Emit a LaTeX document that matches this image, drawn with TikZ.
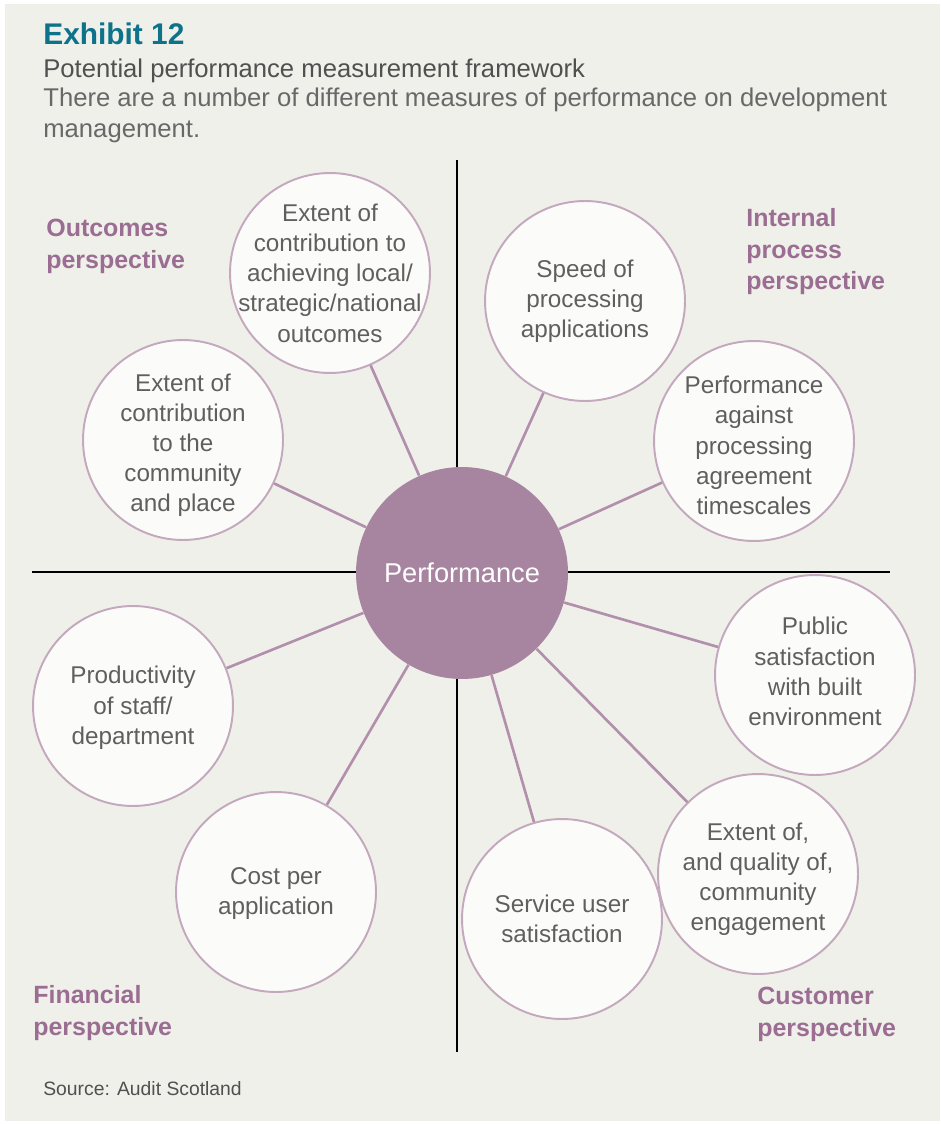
\documentclass[tikz,border=0pt]{standalone}
\usepackage{fontspec}
\setmainfont{Liberation Sans}
\definecolor{bgbeige}{RGB}{239,240,233}
\definecolor{titleteal}{RGB}{14,114,138}
\definecolor{subgray}{RGB}{80,80,80}
\definecolor{descgray}{RGB}{104,104,104}
\definecolor{labelpurple}{RGB}{155,109,147}
\definecolor{perffill}{RGB}{167,132,159}
\definecolor{ringpurple}{RGB}{195,168,190}
\definecolor{spokepurple}{RGB}{178,143,172}
\definecolor{circlewhite}{RGB}{251,251,249}
\definecolor{circletext}{RGB}{95,95,95}

\begin{document}
\begin{tikzpicture}[x=0.02cm,y=-0.02cm,
	measure/.style={circle,draw=ringpurple,line width=1.1pt,fill=circlewhite,minimum size=4cm,inner sep=0pt},
	measuretext/.style={align=center,text=circletext,inner sep=0pt,font=\fontsize{13.8}{17.2}\selectfont},
	hub/.style={circle,fill=perffill,minimum size=4.24cm,inner sep=0pt,text=white,font=\fontsize{15.5}{18}\selectfont},
	spoke/.style={draw=spokepurple,line width=1.5pt},
	axis/.style={draw=black,line width=1.2pt},
	perspective/.style={anchor=north west,align=left,inner sep=0pt,text=labelpurple,font=\fontsize{14.2}{18}\selectfont\bfseries}]
	\useasboundingbox (0,0) rectangle (940,1124);
	%background
		\fill[white] (0,0) rectangle (940,1124);
		\fill[bgbeige] (5,4) rectangle (940,1121);
	%heading
		\node[anchor=base west,inner sep=0pt,text=titleteal,font=\fontsize{17}{20}\selectfont\bfseries] (title) at (43,45) {Exhibit 12};
		\node[anchor=base west,inner sep=0pt,text=subgray,font=\fontsize{14.6}{17.6}\selectfont] (subtitle) at (43,78) {Potential performance measurement framework};
		\node[anchor=north west,align=left,inner sep=0pt,text=descgray,font=\fontsize{14.6}{17.4}\selectfont] (desc) at (43,88) {There are a number of different measures of performance on development\\management.};
	%axis
		\coordinate (axl) at (32,572);
		\coordinate (axr) at (890,572);
		\coordinate (axt) at (457,160);
		\coordinate (axb) at (457,1052);
		\draw[axis] (axl) -- (axr);
		\draw[axis] (axt) -- (axb);
	%centre
		\node[hub] (perf) at (462,573) {Performance};
	%measures
		\node[measure] (local) at (330,273) {};
		\node[measure] (community) at (183,440) {};
		\node[measure] (speed) at (585,301) {};
		\node[measure] (agreement) at (754,441) {};
		\node[measure] (public) at (815,675) {};
		\node[measure] (engagement) at (758,874) {};
		\node[measure] (service) at (562,919) {};
		\node[measure] (cost) at (276,892) {};
		\node[measure] (staff) at (133,706) {};
		\node[measuretext] at (local) {Extent of\\contribution to\\achieving local/\\strategic/national\\outcomes};
		\node[measuretext] at ([yshift=-3pt]community) {Extent of\\contribution\\to the\\community\\and place};
		\node[measuretext] at (speed) {Speed of\\processing\\applications};
		\node[measuretext] at ([yshift=-2.5pt]agreement) {Performance\\against\\processing\\agreement\\timescales};
		\node[measuretext] at ([yshift=2pt]public) {Public\\satisfaction\\with built\\environment};
		\node[measuretext] at ([yshift=-3pt]engagement) {Extent of,\\and quality of,\\community\\engagement};
		\node[measuretext] at (service) {Service user\\satisfaction};
		\node[measuretext] at ([yshift=-1pt]cost) {Cost per\\application};
		\node[measuretext] at ([yshift=-1pt]staff) {Productivity\\of staff/\\department};
	%spokes
		\foreach \m in {local,community,speed,agreement,public,engagement,service,cost,staff}
			\draw[spoke] (perf) -- (\m);
	%perspectives
		\node[perspective] (outcomes) at (46,219) {Outcomes\\perspective};
		\node[perspective] (internal) at (746,208) {Internal\\process\\perspective};
		\node[perspective] (financial) at (33,985) {Financial\\perspective};
		\node[perspective] (customer) at (757,987) {Customer\\perspective};
	%source
		\node[anchor=base west,inner sep=0pt,text=subgray,font=\fontsize{11}{13}\selectfont] (source) at (43,1095) {Source: Audit Scotland};
\end{tikzpicture}
\end{document}
